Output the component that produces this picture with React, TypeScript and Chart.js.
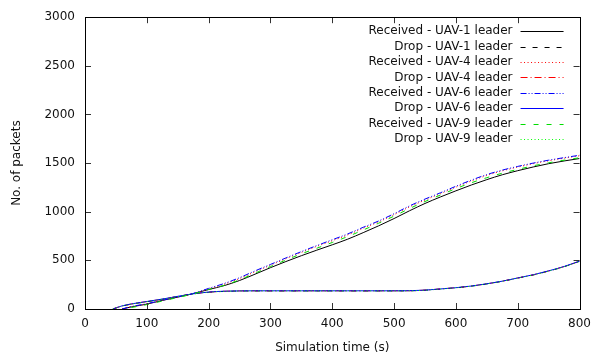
import React, { useEffect, useRef } from "react";
import { Chart, registerables } from "chart.js";

Chart.register(...registerables);

const times = [45, 60, 75, 100, 125, 150, 175, 200, 225, 250, 275, 300, 325, 350, 375, 400, 425, 450, 475, 500, 525, 550, 575, 600, 625, 650, 675, 700, 725, 750, 775, 800];

const recvUav1 = [null, 0, 22, 50, 88, 122, 158, 200, 240, 293, 358, 425, 488, 548, 605, 660, 718, 785, 855, 930, 1010, 1085, 1152, 1215, 1275, 1330, 1380, 1422, 1460, 1494, 1522, 1547];
const dropUav1 = [0, 30, 50, 75, 100, 128, 155, 172, 181, 185, 186, 186, 186, 186, 186, 186, 186, 186, 186, 186, 187, 193, 205, 218, 235, 258, 285, 318, 350, 390, 435, 490];
const recvUav4 = [null, 0, 22, 52, 88, 122, 158, 208, 255, 313, 383, 450, 517, 582, 644, 702, 762, 830, 895, 970, 1050, 1120, 1186, 1253, 1316, 1373, 1420, 1459, 1494, 1524, 1550, 1575];
const dropUav4 = [0, 31, 51, 76, 101, 129, 155, 173, 182, 186, 187, 187, 187, 187, 187, 187, 187, 187, 187, 187, 188, 194, 206, 219, 236, 259, 286, 319, 351, 391, 436, 491];
const recvUav6 = [null, 0, 25, 55, 90, 125, 160, 212, 262, 322, 392, 458, 525, 590, 652, 712, 772, 840, 905, 980, 1060, 1130, 1195, 1262, 1325, 1382, 1428, 1466, 1500, 1530, 1556, 1581];
const dropUav6 = [0, 32, 52, 77, 102, 130, 156, 174, 183, 186, 187, 187, 187, 187, 187, 187, 187, 187, 187, 187, 188, 194, 206, 219, 236, 259, 286, 319, 352, 392, 437, 492];
const recvUav9 = [null, null, 15, 45, 82, 118, 155, 200, 243, 300, 368, 437, 503, 567, 625, 684, 745, 812, 882, 955, 1033, 1105, 1172, 1238, 1298, 1350, 1396, 1435, 1472, 1503, 1530, 1555];
const dropUav9 = [0, 30, 50, 75, 100, 128, 155, 172, 181, 185, 186, 186, 186, 186, 186, 186, 186, 186, 186, 186, 187, 193, 205, 218, 235, 258, 285, 318, 350, 390, 435, 490];

const seriesLabels = [
  "Received - UAV-1 leader",
  "Drop - UAV-1 leader",
  "Received - UAV-4 leader",
  "Drop - UAV-4 leader",
  "Received - UAV-6 leader",
  "Drop - UAV-6 leader",
  "Received - UAV-9 leader",
  "Drop - UAV-9 leader",
];
const seriesValues = [recvUav1, dropUav1, recvUav4, dropUav4, recvUav6, dropUav6, recvUav9, dropUav9];
const seriesColors = ["#000000", "#000000", "#ff0000", "#ff0000", "#0000ff", "#0000ff", "#00dd00", "#00ff00"];
const seriesDashes: number[][] = [[], [5, 7], [1, 2.5], [7, 3, 1, 3], [6, 2, 1, 2, 1, 2], [], [5, 8], [1, 2.5]];

const xTicks = { min: 0, max: 800, step: 100 };
const yTicks = { min: 0, max: 3000, step: 500 };

const FONT = "'DejaVu Sans', sans-serif";

const framePlugin = {
  id: "gnuFrame",
  afterDatasetsDraw(chart: any) {
    const { ctx, chartArea: a, scales } = chart;
    ctx.save();
    ctx.strokeStyle = "#333";
    ctx.lineWidth = 1;
    const tl = 6;
    ctx.beginPath();
    scales.x.ticks.forEach((t: any) => {
      const px = Math.round(scales.x.getPixelForValue(t.value)) + 0.5;
      ctx.moveTo(px, a.bottom);
      ctx.lineTo(px, a.bottom - tl);
      ctx.moveTo(px, a.top);
      ctx.lineTo(px, a.top + tl);
    });
    scales.y.ticks.forEach((t: any) => {
      const py = Math.round(scales.y.getPixelForValue(t.value)) + 0.5;
      ctx.moveTo(a.left, py);
      ctx.lineTo(a.left + tl, py);
      ctx.moveTo(a.right, py);
      ctx.lineTo(a.right - tl, py);
    });
    ctx.stroke();
    ctx.strokeStyle = "#000";
    ctx.lineWidth = 1;
    ctx.strokeRect(Math.round(a.left) + 0.5, Math.round(a.top) + 0.5, Math.round(a.right - a.left), Math.round(a.bottom - a.top));

    const textRight = a.right - 67;
    const s0 = a.right - 59;
    const s1 = a.right - 16;
    const rowTop = a.top + 14;
    const rowH = 15.4;
    ctx.font = `12px ${FONT}`;
    ctx.fillStyle = "#111";
    ctx.textAlign = "right";
    ctx.textBaseline = "middle";
    chart.data.datasets.forEach((ds: any, i: number) => {
      const y = rowTop + i * rowH;
      ctx.fillText(ds.label, textRight, y);
      ctx.save();
      ctx.strokeStyle = ds.borderColor;
      ctx.lineWidth = 1;
      ctx.setLineDash(ds.borderDash || []);
      ctx.beginPath();
      ctx.moveTo(s0, Math.round(y) + 0.5);
      ctx.lineTo(s1, Math.round(y) + 0.5);
      ctx.stroke();
      ctx.restore();
    });
    ctx.restore();
  },
};

export default function App() {
  const ref = useRef<HTMLCanvasElement | null>(null);

  useEffect(() => {
    if (!ref.current) return;
    const datasets = seriesLabels.map((label, i) => ({
      label,
      data: times.map((t, j) => ({ x: t, y: seriesValues[i][j] })),
      borderColor: seriesColors[i],
      backgroundColor: seriesColors[i],
      borderWidth: 1,
      borderDash: seriesDashes[i],
      pointRadius: 0,
      fill: false,
      spanGaps: false,
      cubicInterpolationMode: "monotone" as const,
      order: 8 - i,
    }));
    const chart = new Chart(ref.current, {
      type: "line",
      data: { datasets },
      plugins: [framePlugin],
      options: {
        animation: false,
        responsive: false,
        devicePixelRatio: 1,
        layout: { padding: { top: 15, right: 17, left: 0, bottom: 0 } },
        plugins: { legend: { display: false }, tooltip: { enabled: false } },
        scales: {
          x: {
            type: "linear",
            min: xTicks.min,
            max: xTicks.max,
            grid: { display: false, drawTicks: false },
            border: { display: false },
            ticks: {
              stepSize: xTicks.step,
              color: "#111",
              font: { family: FONT, size: 12 },
              padding: 8,
              maxRotation: 0,
              callback: (v: any) => String(v),
            },
            title: { display: true, text: "Simulation time (s)", color: "#111", font: { family: FONT, size: 12 }, padding: { top: 0, bottom: 1 } },
            afterFit: (s: any) => { s.height = 47; },
          },
          y: {
            type: "linear",
            min: yTicks.min,
            max: yTicks.max,
            grid: { display: false, drawTicks: false },
            border: { display: false },
            ticks: {
              stepSize: yTicks.step,
              color: "#111",
              font: { family: FONT, size: 12 },
              padding: 10,
              callback: (v: any) => String(v),
            },
            title: { display: true, text: "No. of packets", color: "#111", font: { family: FONT, size: 12 }, padding: { top: 10, bottom: 0 } },
            afterFit: (s: any) => { s.width = 85; },
          },
        },
      },
    });
    return () => chart.destroy();
  }, []);

  return (
    <div style={{ position: "fixed", left: 0, top: 0, width: 599, height: 356, background: "#fff" }}>
      <canvas ref={ref} width={599} height={356} style={{ display: "block" }} />
    </div>
  );
}
